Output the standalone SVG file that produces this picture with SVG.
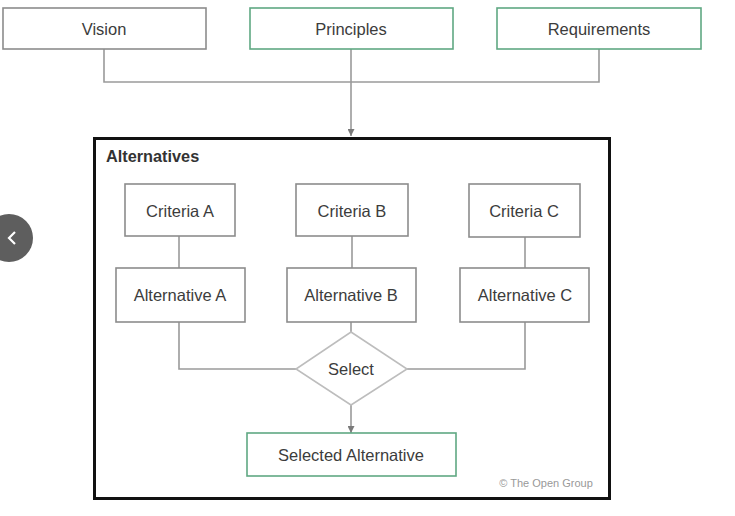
<svg xmlns="http://www.w3.org/2000/svg" width="735" height="516" viewBox="0 0 735 516">
<style>
.box{fill:#fff;stroke:#8c8c8c;stroke-width:1.6}
.gbox{fill:#fff;stroke:#5fa883;stroke-width:1.6}
.lbl{font-family:"Liberation Sans",Arial,sans-serif;font-size:16.5px;fill:#3c3c3c;text-anchor:middle;dominant-baseline:central}
.ln{fill:none;stroke:#9a9a9a;stroke-width:1.6}
</style>
<defs>
<marker id="ah" viewBox="0 0 10 10" refX="10" refY="5" markerWidth="7" markerHeight="7" orient="auto" markerUnits="userSpaceOnUse">
<path d="M0,0 L10,5 L0,10 Z" fill="#7a7a7a"/>
</marker>
</defs>
<rect width="735" height="516" fill="#fff"/>
<g id="alternatives">
<rect x="94.5" y="138.5" width="515" height="360" fill="#fff" stroke="#111" stroke-width="3"/>
<text x="106" y="156" font-family="'Liberation Sans',Arial,sans-serif" font-size="16.3" font-weight="bold" fill="#333" dominant-baseline="central">Alternatives</text>
</g>
<g id="connectors">
<polyline class="ln" points="104,49 104,82 599,82 599,49"/>
<line class="ln" x1="351" y1="49" x2="351" y2="136" marker-end="url(#ah)"/>
<line class="ln" x1="179" y1="236" x2="179" y2="268"/>
<line class="ln" x1="352" y1="236" x2="352" y2="268"/>
<line class="ln" x1="525" y1="237" x2="525" y2="268"/>
<polyline class="ln" points="179,322 179,369 296,369"/>
<polyline class="ln" points="525,322 525,369 407,369"/>
<line class="ln" x1="351" y1="322" x2="351" y2="332"/>
<line class="ln" x1="351" y1="405" x2="351" y2="433" marker-end="url(#ah)"/>
</g>
<g id="vision"><rect class="box" x="3" y="8" width="203" height="41"/><text class="lbl" x="104" y="29">Vision</text></g>
<g id="principles"><rect class="gbox" x="250" y="8" width="203" height="41"/><text class="lbl" x="351" y="29">Principles</text></g>
<g id="requirements"><rect class="gbox" x="497" y="8" width="204" height="41"/><text class="lbl" x="599" y="29">Requirements</text></g>
<g id="criteria-a"><rect class="box" x="125" y="184" width="110" height="52"/><text class="lbl" x="180" y="211">Criteria A</text></g>
<g id="criteria-b"><rect class="box" x="296" y="184" width="112" height="52"/><text class="lbl" x="352" y="211">Criteria B</text></g>
<g id="criteria-c"><rect class="box" x="469" y="184" width="111" height="53"/><text class="lbl" x="524" y="211">Criteria C</text></g>
<g id="alternative-a"><rect class="box" x="116" y="268" width="129" height="54"/><text class="lbl" x="180" y="295">Alternative A</text></g>
<g id="alternative-b"><rect class="box" x="287" y="268" width="129" height="54"/><text class="lbl" x="351" y="295">Alternative B</text></g>
<g id="alternative-c"><rect class="box" x="460" y="268" width="129" height="54"/><text class="lbl" x="525" y="295">Alternative C</text></g>
<g id="select"><polygon points="351,332 407,369 351,405 296,369" fill="#fff" stroke="#bdbdbd" stroke-width="1.6"/><text class="lbl" x="351" y="369">Select</text></g>
<g id="selected-alternative"><rect class="gbox" x="247" y="433" width="209" height="43"/><text class="lbl" x="351" y="455">Selected Alternative</text></g>
<text x="546" y="483" font-family="'Liberation Sans',Arial,sans-serif" font-size="11" fill="#999" text-anchor="middle" dominant-baseline="central">© The Open Group</text>
<g id="nav-button">
<circle cx="9" cy="238" r="24" fill="#5e5e5e"/>
<polyline points="15,232 9,238 15,244" fill="none" stroke="#fff" stroke-width="2.2"/>
</g>
</svg>
